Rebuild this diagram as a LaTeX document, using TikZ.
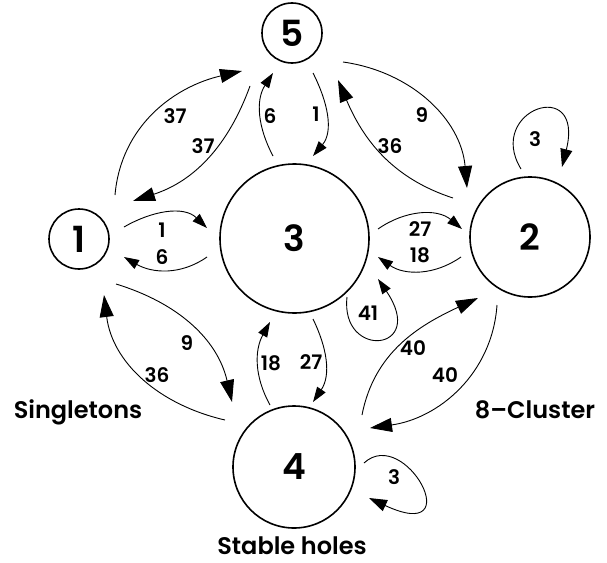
\documentclass[tikz,border=0pt]{standalone}
\usepackage{fontspec}
\setmainfont{Poppins}[BoldFont={Poppins SemiBold}]
\usetikzlibrary{arrows.meta}
\begin{document}
\begin{tikzpicture}[x=1pt,y=1pt,
  state/.style={circle,draw,line width=1.6pt,inner sep=0pt,
    font=\bfseries\fontsize{36}{36}\selectfont},
  flow/.style={line width=0.9pt,-{Triangle[length=15pt,width=10pt]}},
  longflow/.style={line width=0.9pt,-{Triangle[length=22pt,width=14pt]}},
  loopflow/.style={line width=0.9pt,-{Triangle[length=18pt,width=12pt]}},
  rate/.style={font=\bfseries\fontsize{20}{20}\selectfont,inner sep=0pt},
  caption/.style={font=\bfseries\fontsize{24}{24}\selectfont,inner sep=0pt}]
\useasboundingbox (0,0) rectangle (607,-562);

% states
\node[state,minimum size=60pt]  (n5) at (292,-33)      {5};
\node[state,minimum size=60pt]  (n1) at (79,-239)      {1};
\node[state,minimum size=149pt] (n3) at (294.5,-238.5) {3};
\node[state,minimum size=120pt] (n2) at (530,-237)     {2};
\node[state,minimum size=122pt] (n4) at (294,-467)     {4};

% group captions
\node[caption] (capS) at (78,-412)  {Singletons};
\node[caption] (capC) at (535,-410) {8–Cluster};
\node[caption,anchor=base] (capH) at (292,-554) {Stable holes};

% connector end points
\coordinate (a15) at (115,-195); \coordinate (b15) at (242,-71);
\coordinate (a51) at (250,-86);  \coordinate (b51) at (133,-201);
\coordinate (a35) at (273,-156); \coordinate (b35) at (273,-73);
\coordinate (a53) at (313,-73);  \coordinate (b53) at (313,-156);
\coordinate (a52) at (343,-62);  \coordinate (b52) at (467,-188);
\coordinate (a25) at (453,-198); \coordinate (b25) at (338,-80);
\coordinate (a22) at (521,-169); \coordinate (b22) at (562,-167);
\coordinate (a13) at (124,-227); \coordinate (b13) at (207,-228);
\coordinate (a31) at (207,-257); \coordinate (b31) at (124,-257);
\coordinate (a32) at (378,-229); \coordinate (b32) at (462,-229);
\coordinate (a23) at (461,-257); \coordinate (b23) at (378,-257);
\coordinate (a33) at (347,-297); \coordinate (b33) at (378,-279);
\coordinate (a14) at (116,-284); \coordinate (b14) at (232,-402);
\coordinate (a41) at (225,-420); \coordinate (b41) at (104,-295);
\coordinate (a43) at (270,-405); \coordinate (b43) at (270,-322);
\coordinate (a34) at (313,-319); \coordinate (b34) at (313,-402);
\coordinate (a42) at (362,-415); \coordinate (b42) at (478,-298);
\coordinate (a24) at (497,-305); \coordinate (b24) at (370,-428);
\coordinate (a44) at (364,-463); \coordinate (b44) at (369,-498);

% transitions between 1 and 5
\draw[longflow] (a15) to[out=85,in=193] (b15);
\draw[longflow] (a51) to[out=250,in=18] (b51);
\node[rate] (r15) at (175,-116) {37};
\node[rate] (r51) at (203,-146) {37};

% transitions between 3 and 5
\draw[flow] (a35) to[out=118,in=237] (b35);
\draw[flow] (a53) to[out=-63,in=50] (b53);
\node[rate] (r35) at (270,-116) {6};
\node[rate] (r53) at (316,-114) {1};

% transitions between 5 and 2
\draw[longflow] (a52) to[out=-8,in=95] (b52);
\draw[longflow] (a25) to[out=162,in=-67] (b25);
\node[rate] (r52) at (422,-115) {9};
\node[rate] (r25) at (390,-146) {36};

% self transition of 2
\draw[loopflow] (a22) .. controls (485,-110) and (585,-75) .. (b22);
\node[rate] (r22) at (535,-139) {3};

% transitions between 1 and 3
\draw[flow] (a13) to[out=30,in=136] (b13);
\draw[flow] (a31) to[out=215,in=-30] (b31);
\node[rate] (r13) at (162,-230) {1};
\node[rate] (r31) at (162,-257) {6};

% transitions between 3 and 2
\draw[flow] (a32) to[out=35,in=140] (b32);
\draw[flow] (a23) to[out=215,in=-35] (b23);
\node[rate] (r32) at (420,-229) {27};
\node[rate] (r23) at (420,-255) {18};

% self transition of 3
\draw[flow] (a33) .. controls (340,-360) and (428,-352) .. (b33);
\node[rate] (r33) at (368,-313) {41};

% transitions between 1 and 4
\draw[longflow] (a14) to[out=-17,in=103] (b14);
\draw[longflow] (a41) to[out=167,in=-83] (b41);
\node[rate] (r14) at (187,-343) {9};
\node[rate] (r41) at (157,-375) {36};

% transitions between 4 and 3
\draw[flow] (a43) to[out=119,in=241] (b43);
\draw[flow] (a34) to[out=-64,in=56] (b34);
\node[rate] (r43) at (271,-363) {18};
\node[rate] (r34) at (311,-362) {27};

% transitions between 4 and 2
\draw[longflow] (a42) to[out=79,in=205] (b42);
\draw[longflow] (a24) to[out=266,in=8] (b24);
\node[rate] (r42) at (413,-348) {40};
\node[rate] (r24) at (445,-375) {40};

% self transition of 4
\draw[loopflow] (a44) .. controls (405,-425) and (470,-545) .. (b44);
\node[rate] (r44) at (394,-477) {3};
\end{tikzpicture}
\end{document}
